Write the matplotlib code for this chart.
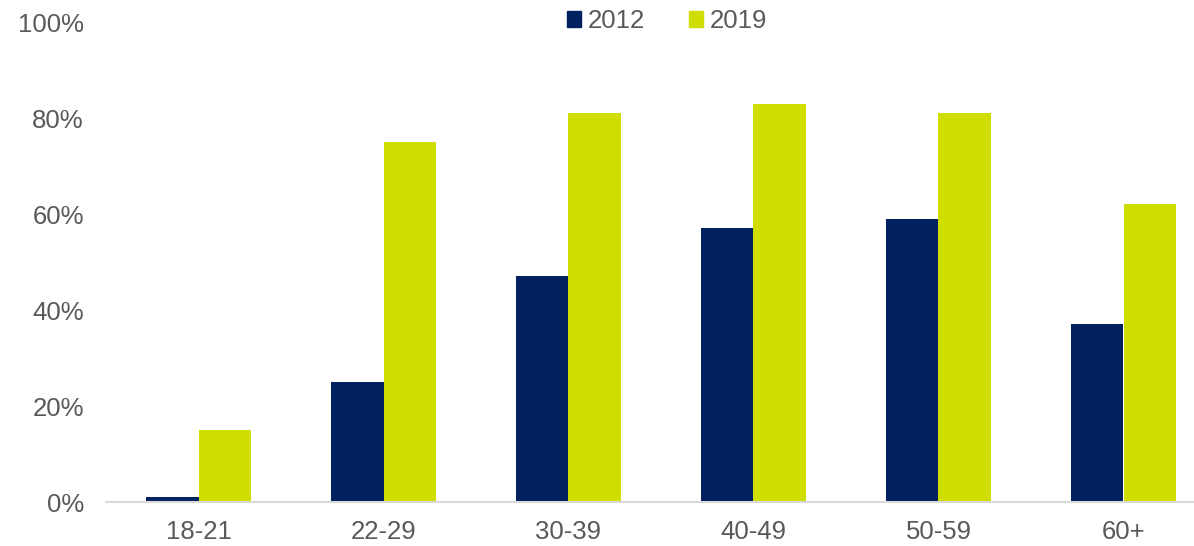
import matplotlib
matplotlib.use("Agg")
import matplotlib.pyplot as plt
from matplotlib.patches import Patch
import numpy as np

categories = ["18-21", "22-29", "30-39", "40-49", "50-59", "60+"]
values_2012 = [1, 25, 47, 57, 59, 37]
values_2019 = [15, 75, 81, 83, 81, 62]
series_labels = ["2012", "2019"]
yticks = [0, 20, 40, 60, 80, 100]

navy = "#002060"
lime = "#CFDD00"
grey = "#595959"

plt.rcParams['font.family'] = ['Liberation Sans', 'DejaVu Sans']

W, H = 1194, 546
fig = plt.figure(figsize=(W / 100, H / 100), dpi=100)
left_px, right_px, top_px, base_px = 106, 1194, 22, 502
ax = fig.add_axes([left_px / W, (H - base_px) / H, (right_px - left_px) / W, (base_px - top_px) / H])

x = np.arange(len(categories))
bw = 0.286
ax.bar(x - bw / 2, values_2012, bw, color=navy, label=series_labels[0])
ax.bar(x + bw / 2, values_2019, bw, color=lime, label=series_labels[1])

span = 185.0
ax.set_xlim(-0.5, -0.5 + (right_px - left_px) / span)
ax.set_ylim(0, 100)
ax.set_yticks(yticks)
ax.set_yticklabels([f"{v}%" for v in yticks])
ax.set_xticks(x)
ax.set_xticklabels(categories)

for s in ["top", "right", "left"]:
    ax.spines[s].set_visible(False)
ax.spines["bottom"].set_color("#d9d9d9")
ax.spines["bottom"].set_linewidth(1.5)
ax.tick_params(axis="both", length=0, labelsize=18.5, labelcolor=grey)
ax.tick_params(axis="y", pad=16)
ax.tick_params(axis="x", pad=13)

handles = [Patch(color=navy), Patch(color=lime)]
leg = fig.legend(handles, series_labels, loc="center", bbox_to_anchor=(667 / W, 1 - 21 / H),
                 ncol=2, frameon=False, fontsize=18.5, handlelength=0.55, handleheight=0.55,
                 handletextpad=0.25, columnspacing=1.7)
for t in leg.get_texts():
    t.set_color(grey)

fig.savefig("out.png", dpi=100)
